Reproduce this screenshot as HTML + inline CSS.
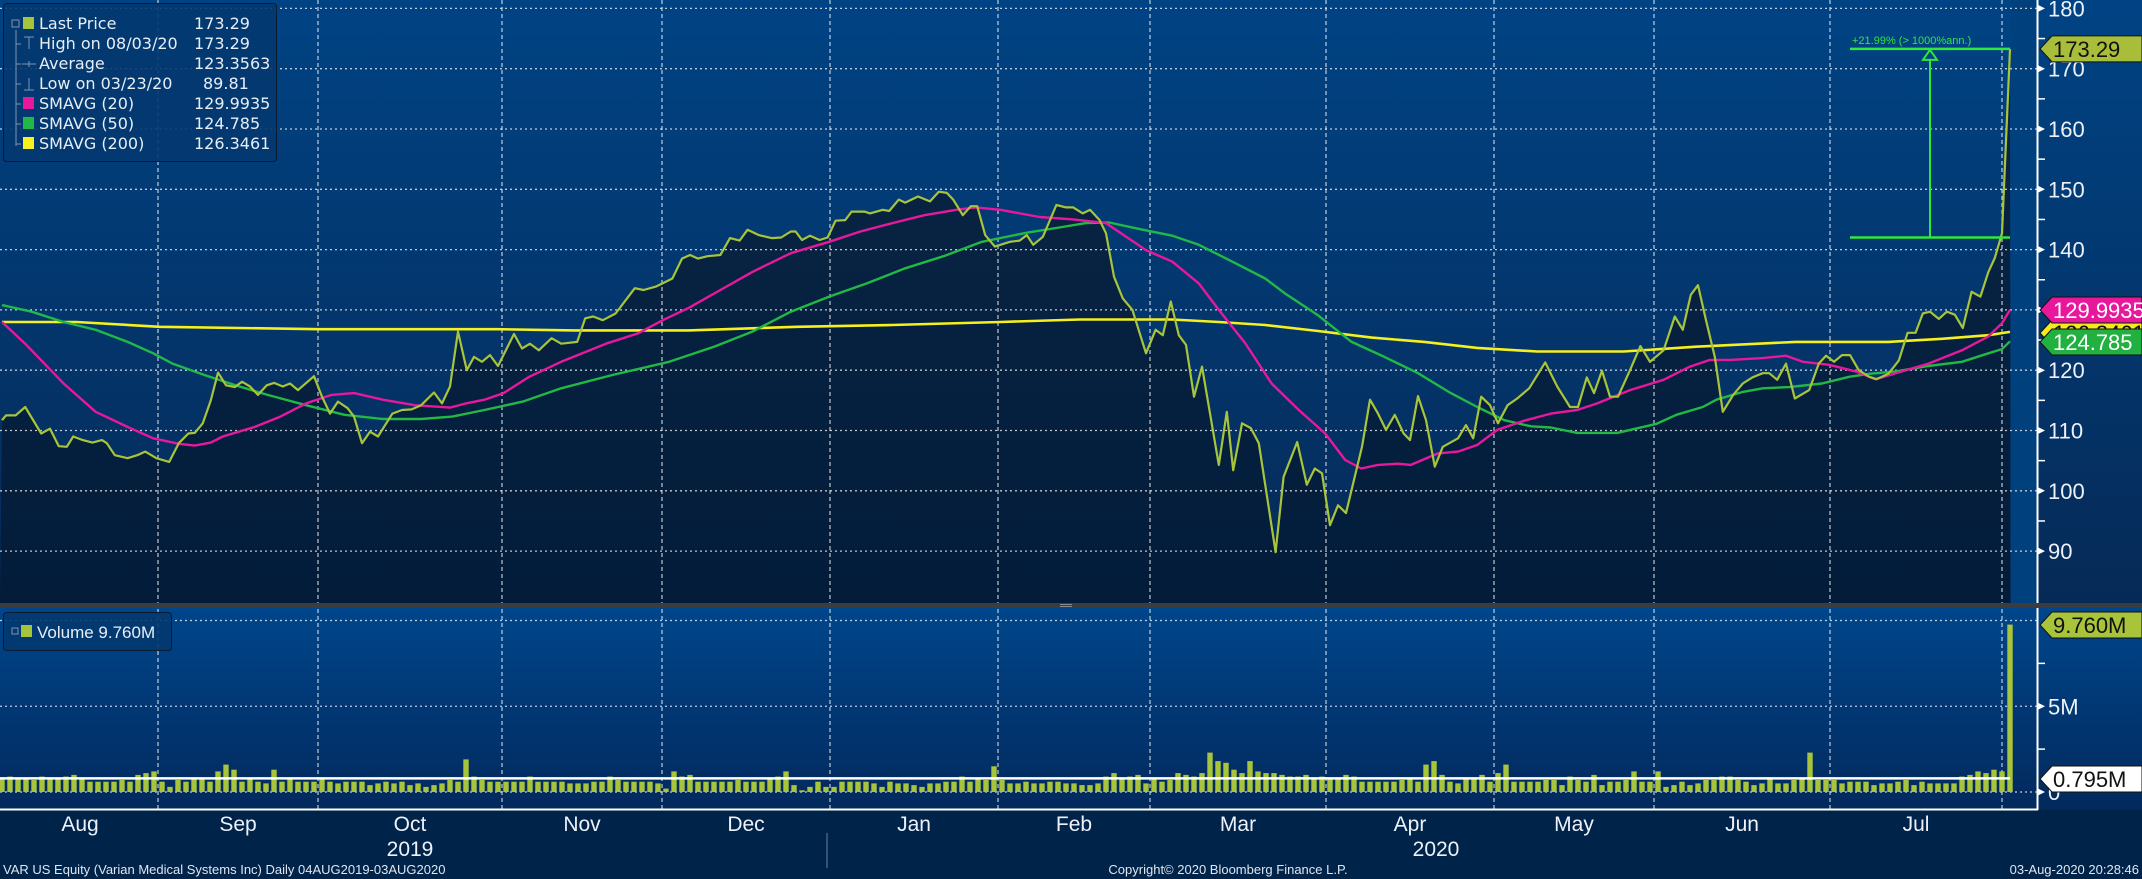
<!DOCTYPE html>
<html><head><meta charset="utf-8">
<style>
html,body{margin:0;padding:0;background:#00234a;}
svg{display:block;font-family:"Liberation Sans",sans-serif;}
</style></head>
<body>
<svg id="chart" width="2142" height="879" viewBox="0 0 2142 879" xmlns="http://www.w3.org/2000/svg">
<defs>
<linearGradient id="bgP" x1="0" y1="0" x2="0" y2="1"><stop offset="0" stop-color="#004384"/><stop offset="1" stop-color="#062a57"/></linearGradient>
<linearGradient id="fillP" x1="0" y1="0" x2="0" y2="1"><stop offset="0" stop-color="#0b2546"/><stop offset="1" stop-color="#021c3a"/></linearGradient>
<linearGradient id="bgV" x1="0" y1="0" x2="0" y2="1"><stop offset="0" stop-color="#00468c"/><stop offset="1" stop-color="#02295c"/></linearGradient>
</defs>
<rect x="0" y="0" width="2142" height="604" fill="url(#bgP)"/>
<rect x="0" y="607" width="2142" height="203" fill="url(#bgV)"/>
<rect x="0" y="810" width="2142" height="69" fill="#00234a"/>
<g id="gridP"></g><g id="priceFill"></g><g id="gridP2"></g><g id="series"></g><g id="vol"></g><g id="axes"></g><g id="labels"></g>
<rect x="0" y="603" width="2142" height="5" fill="#3c3c3c"/>
<rect x="1060" y="604" width="12" height="1" fill="#8a8a8a"/><rect x="1060" y="606" width="12" height="1" fill="#8a8a8a"/>
</svg>
<script>
// ---- data ----
const priceIdx=[0,0.5,1.7,2.9,4.9,6,7.1,8.1,8.9,10.1,11.3,12.5,13.1,14.1,15.7,16.9,17.9,19.3,20.9,22.1,23.3,24.1,25.1,26.1,27,28,29.1,30,31,32,33.1,34,35.1,36,37,39,40,41,42,43.2,44,45,46,47,48.8,50,51.2,52.4,54,55,56,57,58.1,59,60,61,62,64,65,66,67.1,68.7,69.9,71.9,72.9,73.9,75.1,76.7,79.1,80.2,81.8,83.8,85,86,87,88.2,89.8,91,92.2,93.2,94.6,96.2,97.4,98.6,99.2,100,101,102.2,103.2,104.2,105.4,106.2,107.8,108.5,110.1,110.9,112.1,112.9,114.5,116,117.1,118.1,118.9,120.1,121.1,121.9,122.9,124.1,126,127.2,128.1,128.9,130.1,131.8,133,133.9,135.1,136,137.2,138,139,140.1,141.3,143,144.2,145.1,146.1,147.1,148,149,150,152.1,153.1,153.9,155,156.1,157.1,159.2,160.2,161.9,163.1,164.1,165,166,167,168,170,171,172,173,174.1,175.2,176,177,178,179.1,180.1,182,183,183.9,184.9,186,187,188.2,189.4,190.9,192.9,194.4,196,197,198.1,199,200,201,202,203.5,204.8,206,207.7,209.1,210.1,211.1,212,213,214.1,215.1,216.4,217.6,218.8,220.1,220.9,221.9,223,224.1,225.9,227.1,228,229,230,231,232.1,233.4,234.3,235.8,237.1,238.2,239.2,240.1,241,242.1,243.1,244.1,245.1,246.2,247.3,248.3,249.1,250,251];
const priceVals=[111.7,112.5,112.5,113.9,109.5,110.3,107.4,107.3,109,108.4,108,108.4,107.9,105.9,105.4,105.9,106.5,105.4,104.8,107.9,109.5,109.6,111.2,115,119.6,117.5,117.2,118.1,117.3,115.9,117.5,117.9,117.3,117.8,116.7,119,115.6,112.8,114.8,113.7,112.3,107.9,109.8,109,112.8,113.4,113.5,114.2,116.3,114.5,117.3,126.4,120,122.2,121.4,122.5,120.7,126,123.6,124.4,123.3,125.3,124.4,124.7,128.6,128.9,128.3,129.4,133.6,133.3,133.9,135.2,138.5,139.1,138.5,138.9,139.1,141.9,141.5,143.3,142.4,141.9,142,143,143,141.6,142.3,141.6,142,144.8,144.9,146.3,146.3,146,146.6,146.4,148.3,147.8,148.8,148,149.6,149.4,148.3,145.7,147.2,147.2,142.4,140.5,141.3,141.5,142.4,140.8,142.1,147.4,147,147,146,146.6,144.9,142.7,135.5,131.9,130,122.8,126.7,125.8,131.4,125.8,124.2,115.6,120.6,104.3,113.1,103.4,111.2,110.4,107.9,89.81,102.3,108.1,101,103.7,102.9,94.3,97.6,96.3,107.3,115.1,112.8,110.1,112.6,109.5,108.4,115.7,111.7,104,107.3,108.7,110.9,108.7,115.6,114.2,111.2,114.2,115.3,117,121.3,117.3,113.9,113.9,118.8,116.2,119.9,115.6,115.6,120,124,121.4,123.3,128.9,126.7,132.5,134.1,128.3,122.2,113.1,115.9,117.8,118.8,119.5,119.5,118.4,121.1,115.3,116.7,121.1,122.4,121.4,122.5,122.5,120,118.9,118.5,119.4,121.6,126.2,126.2,129.4,129.7,128.5,129.7,129.2,127,133,132.2,136.3,138.6,142.7,173.29];
const sma20Idx=[0,2.9,7.7,11.7,15.7,18.9,22.1,24.1,26.1,27.6,31.6,34.8,38,41.2,44,47.6,51.6,56,58,60.3,62.7,65.9,69.9,75.5,79.5,82.6,85.8,89.8,93.8,98.6,103.4,107.3,111.3,115.3,119.3,121.7,124.8,129.7,133.9,138,143,146.3,149.6,152.1,155.4,158.7,162.1,165.4,167.9,169.9,172,174.5,176.1,179.5,182,184.4,186.9,190.2,193.6,196.9,199.4,203.5,207.7,211,213.5,216,220.1,223,225.1,228.4,231.7,234.2,237.5,240.8,245,248.3,250,251];
const sma20Vals=[128,124.4,117.8,113.1,110.6,108.7,107.8,107.5,108,109,110.6,112.3,114.5,115.9,116.2,115.1,114.2,113.8,114.5,115.1,116.2,118.9,121.4,124.4,126.1,128.3,130.3,133.3,136.3,139.4,141.3,143,144.4,145.7,146.6,147,146.6,145.4,145,144.4,139.9,138,134.4,130,124.5,117.8,113.4,109.5,105.1,103.7,104.3,104.5,104.3,106.2,106.5,107.6,110.1,111.6,112.8,113.4,114.5,116.7,118.4,120.6,121.7,121.7,122,122.4,121.4,120.9,119.8,118.5,119.8,121.1,123.3,125.6,127.8,129.9935];
const sma50Idx=[0,3.7,7.7,11.7,15.7,18.9,21.3,25.3,29.2,33.2,38,42.8,47.6,52.4,56.3,60.3,65.1,69.9,76.3,83.4,89,93.8,98.6,103.4,108.1,112.9,117.7,122.5,128.1,131.4,135.5,138.4,142.2,146.3,149.6,153.8,157.9,160.4,164.5,168.7,172.8,177,181.1,184.4,187.8,191.1,193.6,196.9,201.9,206.8,209.3,212.6,214.3,217.6,220.1,223.4,227.5,230.9,233.4,236.7,240.8,245,248.3,250,251];
const sma50Vals=[130.8,129.7,128,126.7,124.7,122.8,121.1,119.2,117.5,115.9,114.2,112.6,111.9,111.9,112.3,113.4,114.8,117,119.2,121.4,123.9,126.4,129.7,132.2,134.4,136.9,138.9,141.3,142.8,143.5,144.4,144.5,143.4,142.3,140.8,138,135.2,132.7,129.1,124.7,122.2,119.5,116.2,113.9,111.7,110.7,110.5,109.6,109.6,111.1,112.6,113.9,115.1,116.4,117,117.2,117.8,118.9,119.4,119.8,120.7,121.4,122.8,123.5,124.785];
const sma200Idx=[0,9.3,19.7,39.6,61.9,71.5,85.8,99.4,111.3,124.8,134.7,146.3,152.1,157.9,164.5,171.2,177.8,184.4,191.9,202.7,211.8,224.2,235.8,242.5,248.3,251];
const sma200Vals=[128,128,127.2,126.8,126.8,126.6,126.6,127.2,127.5,128,128.4,128.4,128,127.5,126.5,125.4,124.7,123.7,123.1,123.1,123.9,124.7,124.7,125.2,125.8,126.3461];
const volumeM=[0.85,0.9,0.75,0.8,0.7,0.9,0.85,0.8,0.9,1.0,0.8,0.6,0.6,0.6,0.6,0.7,0.6,1.0,1.1,1.2,
0.6,0.3,0.7,0.6,0.8,0.75,0.6,1.2,1.6,1.3,0.6,0.75,0.6,0.5,1.3,0.6,0.8,0.6,0.6,0.6,0.8,
0.6,0.5,0.6,0.6,0.6,0.4,0.5,0.6,0.5,0.6,0.4,0.5,0.3,0.4,0.5,0.7,0.6,1.9,0.9,0.7,0.6,0.6,
0.6,0.6,0.6,0.9,0.6,0.6,0.6,0.6,0.5,0.5,0.5,0.6,0.6,0.9,0.7,0.6,0.6,0.6,0.6,0.5,
0.2,1.2,0.9,1.0,0.6,0.6,0.6,0.6,0.6,0.7,0.6,0.6,0.6,0.8,0.9,1.2,0.4,0.1,0.3,0.6,0.3,
0.3,0.6,0.6,0.6,0.6,0.5,0.3,0.6,0.5,0.5,0.4,0.3,0.5,0.5,0.6,0.6,0.9,0.6,0.8,0.7,1.5,
0.7,0.5,0.5,0.6,0.5,0.5,0.6,0.6,0.5,0.5,0.4,0.4,0.5,0.9,1.1,0.8,0.9,1.0,0.5,
0.8,0.6,0.7,1.1,1.0,0.9,1.1,2.3,1.8,1.7,1.3,1.1,1.8,1.2,1.1,1.1,1.0,0.9,0.9,1.0,0.8,0.9,
0.8,0.8,1.0,0.9,0.6,0.6,0.6,0.6,0.6,0.7,0.8,0.6,1.6,1.8,1.0,0.6,0.5,0.8,0.8,1.0,0.6,
1.1,1.6,0.6,0.6,0.6,0.6,0.7,0.7,0.4,0.9,0.7,0.6,1.0,0.4,0.6,0.6,0.7,1.2,0.6,0.6,
1.2,0.3,0.4,0.6,0.4,0.5,0.7,0.7,0.9,0.9,0.7,0.6,0.4,0.5,0.8,0.5,0.5,0.7,0.8,2.3,0.7,0.7,
0.7,0.5,0.6,0.6,0.6,0.4,0.5,0.5,0.6,0.7,0.4,0.6,0.5,0.5,0.5,0.5,0.9,1.0,1.2,1.1,1.3,1.2,9.76];
const volumeAvgM=0.795;
const priceTicks=[90,100,110,120,130,140,150,160,170,180];
const volTicks=[0,5];
const volTickLabels=['0','5M'];
const monthLabels=['Aug','Sep','Oct','Nov','Dec','Jan','Feb','Mar','Apr','May','Jun','Jul'];
const monthStartIdx=[0,19.5,39.5,62.5,82.5,103.5,124.5,143.5,165.5,186.5,206.5,228.5,250];
const yearLabels=['2019','2020'];
const yearMonth=[2,8];
const annLowPrice=142.0, annHighPrice=173.29;

// ---- scales ----
const X=i=>2+i*8.0;
const YP=v=>129+(160-v)*6.03;
const YV=m=>792-m*17.15;
const NS='http://www.w3.org/2000/svg';
function mk(parent,tag,attrs){const e=document.createElementNS(NS,tag);for(const k in attrs)e.setAttribute(k,attrs[k]);document.getElementById(parent).appendChild(e);return e;}
const gridCol='rgba(255,255,255,0.75)';

{let d='M'+X(priceIdx[0])+','+YP(priceVals[0]);for(let k=1;k<priceIdx.length;k++)d+=' L'+X(priceIdx[k]).toFixed(1)+','+YP(priceVals[k]).toFixed(1);
d+=' L'+X(priceIdx[priceIdx.length-1])+',603 L0,603 Z';
const e=mk('priceFill','path',{d:d,fill:'url(#fillP)'});

}
mk('priceFill','rect',{x:X(251)+1,y:0,width:2037-X(251)-1,height:603,fill:'#00407d'});

priceTicks.forEach(v=>{const e=mk('gridP2','line',{x1:0,x2:2037,y1:YP(v),y2:YP(v),stroke:gridCol,'stroke-width':1.3,'stroke-dasharray':'2,3'});

});
[10,5].forEach(m=>{const e=mk('gridP2','line',{x1:0,x2:2037,y1:YV(m),y2:YV(m),stroke:gridCol,'stroke-width':1.3,'stroke-dasharray':'2,3'});

});
mk('gridP2','line',{x1:0,x2:2037,y1:YV(0),y2:YV(0),stroke:gridCol,'stroke-width':1.3,'stroke-dasharray':'2,3'});
monthStartIdx.slice(1).forEach(i=>{const e=mk('gridP2','line',{x1:X(i),x2:X(i),y1:0,y2:810,stroke:gridCol,'stroke-width':1.2,'stroke-dasharray':'4,3'});

});

function line(idx,vals,col,w,name){let d='';for(let k=0;k<idx.length;k++)d+=(k?' L':'M')+X(idx[k]).toFixed(1)+','+YP(vals[k]).toFixed(1);
const e=mk('series','path',{d:d,fill:'none',stroke:col,'stroke-width':w,'stroke-linejoin':'round'});

}
line(sma200Idx,sma200Vals,'#f5f01e',2.6,'sma200-line');
line(sma50Idx,sma50Vals,'#22b845',2.4,'sma50-line');
line(sma20Idx,sma20Vals,'#e8189c',2.4,'sma20-line');
line(priceIdx,priceVals,'#a8c43a',2.2,'last-price-line');

{const yl=YP(annLowPrice),yh=YP(annHighPrice),xa=1850,xb=X(251),xm=1930;
mk('series','line',{x1:xa,x2:xb,y1:yl,y2:yl,stroke:'#2ee83c','stroke-width':2.5});
mk('series','line',{x1:xa,x2:xb,y1:yh,y2:yh,stroke:'#2ee83c','stroke-width':2.5});
mk('series','line',{x1:xm,x2:xm,y1:yl,y2:yh+10,stroke:'#2ee83c','stroke-width':2});
mk('series','path',{d:`M${xm-7},${yh+11} L${xm+7},${yh+11} L${xm},${yh+1} Z`,fill:'none',stroke:'#2ee83c','stroke-width':2});
const t=mk('series','text',{x:1852,y:yh-5,fill:'#2ee83c','font-size':11});t.textContent='+21.99% (> 1000%ann.)';

}

volumeM.forEach((m,i)=>{const e=mk('vol','rect',{x:(X(i)-2.7).toFixed(1),y:YV(m).toFixed(1),width:5.4,height:(792-YV(m)).toFixed(1),fill:'#a8c43a'});

});
mk('vol','line',{x1:0,x2:X(251),y1:YV(volumeAvgM),y2:YV(volumeAvgM),stroke:'#ffffff','stroke-width':2.5});

mk('axes','line',{x1:2037.5,x2:2037.5,y1:0,y2:810,stroke:'#ffffff','stroke-width':2});
mk('axes','line',{x1:0,x2:2038,y1:809.5,y2:809.5,stroke:'#ffffff','stroke-width':2});
priceTicks.forEach(v=>{mk('axes','path',{d:`M2037,${YP(v)-4} L2045,${YP(v)} L2037,${YP(v)+4} Z`,fill:'#fff'});
const t=mk('axes','text',{x:2048,y:YP(v)+8,fill:'#eef2f8','font-size':22});t.textContent=v;


mk('axes','line',{x1:2037,x2:2045,y1:YP(v+5),y2:YP(v+5),stroke:'#fff','stroke-width':1.5});});
volTicks.forEach((m,k)=>{mk('axes','path',{d:`M2037,${YV(m)-4} L2045,${YV(m)} L2037,${YV(m)+4} Z`,fill:'#fff'});
const t=mk('axes','text',{x:2048,y:YV(m)+8,fill:'#eef2f8','font-size':22});t.textContent=volTickLabels[k];

});
[2.5,7.5].forEach(m=>mk('axes','line',{x1:2037,x2:2045,y1:YV(m),y2:YV(m),stroke:'#fff','stroke-width':1.5}));
monthLabels.forEach((lab,k)=>{const cx=(X(monthStartIdx[k])+X(monthStartIdx[k+1]))/2;
const t=mk('axes','text',{x:cx,y:831,fill:'#eef2f8','font-size':21,'text-anchor':'middle'});t.textContent=lab;

});
yearLabels.forEach((lab,k)=>{const m=yearMonth[k];const cx=(X(monthStartIdx[m])+X(monthStartIdx[m+1]))/2+(k?26:0);
const t=mk('axes','text',{x:cx,y:856,fill:'#eef2f8','font-size':21,'text-anchor':'middle'});t.textContent=lab;

});
mk('axes','line',{x1:827,x2:827,y1:833,y2:868,stroke:'#6b7f99','stroke-width':1});

function tag(y,txt,bg,fg,name){mk('labels','path',{d:`M2040,${y} L2052,${y-13} L2142,${y-13} L2142,${y+13} L2052,${y+13} Z`,fill:bg,stroke:'#111','stroke-width':1});
const t=mk('labels','text',{x:2053,y:y+8,fill:fg,'font-size':22});t.textContent=txt;

}
tag(333,'126.3461','#f2ec1c','#111','sma200-tag');
tag(YP(173.29),'173.29','#a8bd3a','#111','last-price-tag');
tag(310,'129.9935','#e8189c','#fff','sma20-tag');
tag(342,'124.785','#22b040','#fff','sma50-tag');
tag(625,'9.760M','#a8c43a','#111','volume-tag');
tag(779,'0.795M','#ffffff','#111','avg-volume-tag');
</script>
<svg style="position:absolute;left:0;top:0" width="2142" height="879" xmlns="http://www.w3.org/2000/svg" font-family="Liberation Sans, sans-serif">
<g>
<rect x="3.5" y="3.5" width="273" height="158" rx="3" fill="#03396f" fill-opacity="0.9" stroke="#0a1a30"/>
<path d="M16,30 V146 M16,44 h5 M16,64 h5 M16,84 h5 M16,104 h5 M16,124 h5 M16,144 h5" stroke="#7f93b0" fill="none"/>
<rect x="12" y="20" width="7" height="7" fill="none" stroke="#7f93b0"/>
<rect x="23" y="17" width="11" height="12" fill="#a8c43a"/>
<rect x="23" y="97" width="11" height="12" fill="#e8189c"/>
<rect x="23" y="117" width="11" height="12" fill="#22b845"/>
<rect x="23" y="137" width="11" height="12" fill="#f5f01e"/>
<path d="M24,37 h10 M29,37 v12 M22,64 h14 M29,61 v6 M29,78 v12 M24,90 h10" stroke="#7f93b0" fill="none"/>
<g fill="#e8eef5" font-size="16" font-family="DejaVu Sans, sans-serif">
<text x="39" y="29">Last Price</text><text x="194" y="29">173.29</text>
<text x="39" y="49">High on 08/03/20</text><text x="194" y="49">173.29</text>
<text x="39" y="69">Average</text><text x="194" y="69">123.3563</text>
<text x="39" y="89">Low on 03/23/20</text><text x="203" y="89">89.81</text>
<text x="39" y="109">SMAVG (20)</text><text x="194" y="109">129.9935</text>
<text x="39" y="129">SMAVG (50)</text><text x="194" y="129">124.785</text>
<text x="39" y="149">SMAVG (200)</text><text x="194" y="149">126.3461</text>
</g></g>
<g>
<rect x="3.5" y="612.5" width="168" height="38" rx="3" fill="#03396f" fill-opacity="0.9" stroke="#0a1a30"/>
<rect x="12" y="628" width="6" height="6" fill="none" stroke="#7f93b0"/>
<rect x="21" y="625" width="11" height="12" fill="#a8c43a"/>
<text x="37" y="638" fill="#e8eef5" font-size="17">Volume 9.760M</text>
</g>
<g font-size="13" fill="#dfe6ef">
<text x="3" y="874">VAR US Equity (Varian Medical Systems Inc)  Daily 04AUG2019-03AUG2020</text>
<text x="1228" y="874" text-anchor="middle">Copyright© 2020 Bloomberg Finance L.P.</text>
<text x="2139" y="874" text-anchor="end">03-Aug-2020 20:28:46</text>
</g>
</svg>
</body></html>
